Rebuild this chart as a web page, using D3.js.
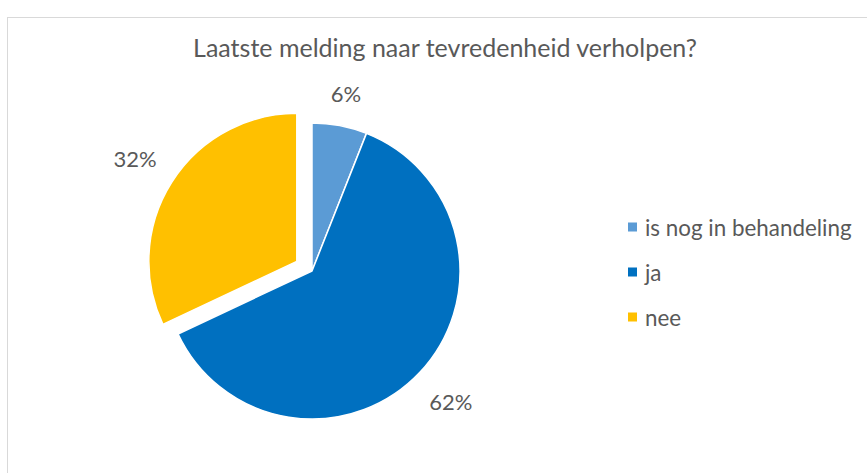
<!DOCTYPE html>
<html><head><meta charset="utf-8">
<script src="https://cdn.jsdelivr.net/npm/d3@7"></script>
<style>body{margin:0;background:#fff}svg{display:block}text{font-family:Lato,"Open Sans",sans-serif;fill:#595959}</style>
</head><body>
<svg id="c" width="867" height="473"></svg>
<script>
const title = "Laatste melding naar tevredenheid verholpen?";
const categories = ["is nog in behandeling", "ja", "nee"];
const values = [6, 62, 32];
const colors = ["#5B9BD5", "#0070C0", "#FFC000"];
const exploded = [0, 0, 1];

const svg = d3.select("#c");
svg.append("rect").attr("x",7.5).attr("y",17.5).attr("width",900).attr("height",500)
  .attr("fill","#fff").attr("stroke","#d9d9d9").attr("stroke-width",1);

svg.append("text").attr("x",445).attr("y",57).attr("text-anchor","middle")
  .style("font-size","25px").text(title);

const cx = 312, cy = 271, R = 148, explode = 18;
const pie = d3.pie().sort(null).value(d=>d);
const arcs = pie(values);
const arc = d3.arc().innerRadius(0).outerRadius(R);
const g = svg.append("g").attr("transform",`translate(${cx},${cy})`);
const total = d3.sum(values);

arcs.forEach((a,i)=>{
  const mid = (a.startAngle+a.endAngle)/2;
  const ox = Math.sin(mid)*explode*exploded[i], oy = -Math.cos(mid)*explode*exploded[i];
  const sg = g.append("g").attr("transform",`translate(${ox},${oy})`);
  sg.append("path").attr("d",arc(a)).attr("fill",colors[i]).attr("stroke","#fff").attr("stroke-width",1.5).attr("stroke-linejoin","round");
  const lbl = Math.round(values[i]/total*100)+"%";
  const t = sg.append("text").style("font-size","22px").attr("text-anchor","middle").attr("dominant-baseline","central").text(lbl);
  const w = t.node().getComputedTextLength(), h = 20;
  const s = Math.sin(mid), c = Math.cos(mid);
  const r = R + Math.abs(w/2*s) + Math.abs(h/2*c) + 20;
  t.attr("x", s*r).attr("y", -c*r);
});

const lg = svg.append("g").attr("transform","translate(628,227)");
const rowY = d3.scalePoint().domain(categories).range([0,90]);
categories.forEach((c,i)=>{
  const row = lg.append("g").attr("transform",`translate(0,${rowY(c)})`);
  row.append("rect").attr("x",0).attr("y",-4.5).attr("width",9).attr("height",9).attr("fill",colors[i]);
  row.append("text").attr("x",17).attr("y",0).attr("dominant-baseline","central").style("font-size","22.4px").text(c);
});
</script>
</body></html>
